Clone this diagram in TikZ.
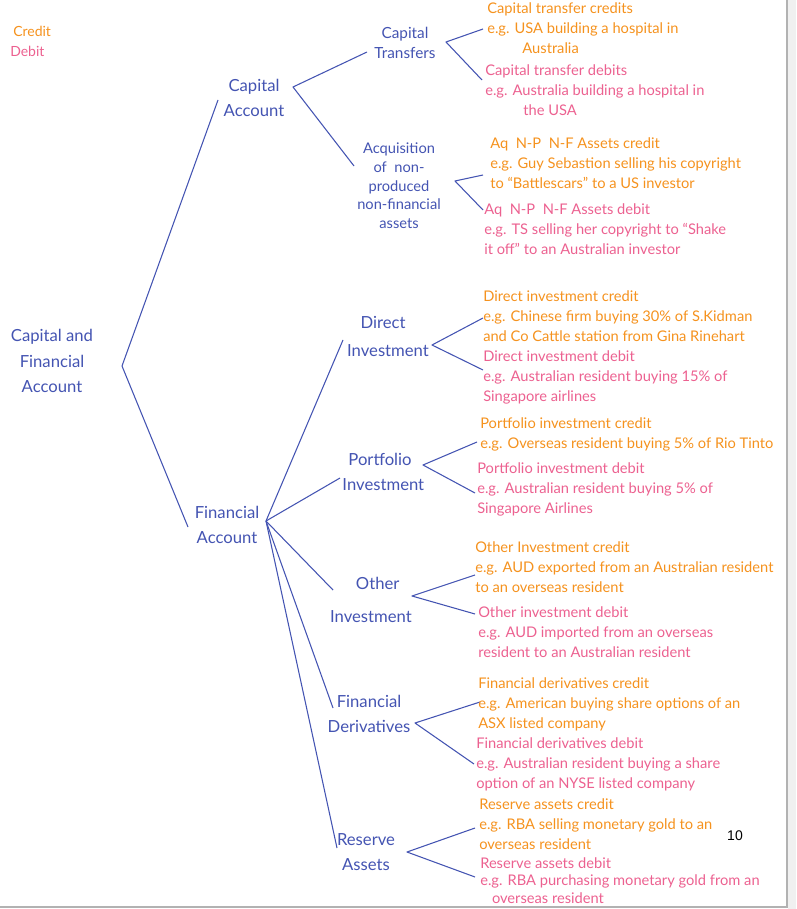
\documentclass[tikz,border=0pt]{standalone}
\usepackage{fontspec}
\setmainfont{Lato}
\newfontfamily\pagefont{Liberation Sans}
\definecolor{tinta}{HTML}{4454B2}
\definecolor{credito}{HTML}{F5921E}
\definecolor{debito}{HTML}{EC6190}
\tikzset{
	conta/.style={text=tinta, align=center, inner sep=0pt, font=\fontsize{12.5}{19}\selectfont},
	ramo/.style={draw=tinta, line width=0.8pt, line join=round},
	credtxt/.style={text=credito, anchor=north west, align=left, inner sep=0pt, font=\fontsize{11}{15}\selectfont},
	debtxt/.style={credtxt, text=debito}
}
\begin{document}
\begin{tikzpicture}[x=0.75pt, y=-0.75pt]
	\useasboundingbox (0,0) rectangle (796,909);

% borda da folha
	\fill[gray!12] (788,0) rectangle (796,909);
	\draw[gray!60, line width=0.8pt] (787,0) -- (787,907) -- (0,907);

% legenda
	\node[credtxt, font=\fontsize{10.5}{13}\selectfont] (cred) at (13,26) {Credit};
	\node[debtxt, font=\fontsize{10.5}{13}\selectfont] (deb) at (10,46) {Debit};

% contas
	\node[conta] (cfa) at (52,361) {Capital and\\Financial\\Account};
	\node[conta] (ca) at (254,98) {Capital\\Account};
	\node[conta] (fa) at (227,525) {Financial\\Account};
	\node[conta, font=\fontsize{11.5}{15}\selectfont] (ct) at (405,43) {Capital\\Transfers};
	\node[conta, font=\fontsize{11}{14}\selectfont] (aq) at (399,186) {Acquisition\\of \ non-\\produced\\non-financial\\assets};
	\node[conta, font=\fontsize{12.5}{21}\selectfont] (di) at (383,336) {Direct\\\hspace*{0.6em}Investment};
	\node[conta] (pi) at (380,472) {Portfolio\\\hspace*{0.4em}Investment};
	\node[conta, font=\fontsize{12.5}{25}\selectfont] (oi) at (371,600) {\hspace*{0.8em}Other\\Investment};
	\node[conta] (fd) at (369,714) {Financial\\Derivatives};
	\node[conta] (ra) at (366,852) {Reserve\\Assets};

% pontos dos ramos
	\coordinate (cfa-v) at (122,366);
	\coordinate (ca-in) at (218,100);
	\coordinate (fa-in) at (188,527);
	\coordinate (ca-v) at (293,87);
	\coordinate (ct-in) at (367,52);
	\coordinate (aq-in) at (354,166);
	\coordinate (fa-v) at (266,521);
	\foreach \n/\x/\y in {di/343/340, pi/340/478, oi/333/590, fd/333/708, ra/337/848}
		\coordinate (\n-in) at (\x,\y);
	\foreach \n/\vx/\vy/\ux/\uy/\dx/\dy in {ct/446/42/483/29/482/80, aq/455/181/483/175/483/210,
			di/432/345/483/318/483/370, pi/423/465/477/442/475/493, oi/412/596/475/575/475/614,
			fd/415/723/480/702/474/764, ra/407/852/475/828/475/877}
	{
		\coordinate (\n-v) at (\vx,\vy);
		\coordinate (\n-up) at (\ux,\uy);
		\coordinate (\n-dn) at (\dx,\dy);
	}

% ramos
	\draw[ramo] (ca-in) -- (cfa-v) -- (fa-in);
	\draw[ramo] (ct-in) -- (ca-v) -- (aq-in);
	\foreach \n in {di, pi, oi, fd, ra}
		\draw[ramo] (fa-v) -- (\n-in);
	\foreach \n in {ct, aq, di, pi, oi, fd, ra}
		\draw[ramo] (\n-up) -- (\n-v) -- (\n-dn);

% creditos e debitos
	\node[credtxt] (ct-c) at (487,2) {Capital transfer credits\\e.g. USA building a hospital in\\\hspace*{2.4em}Australia};
	\node[debtxt] (ct-d) at (485,64) {Capital transfer debits\\e.g. Australia building a hospital in\\\hspace*{2.6em}the USA};
	\node[credtxt] (aq-c) at (490,137) {Aq \ N-P \ N-F Assets credit\\e.g. Guy Sebastion selling his copyright\\to ``Battlescars'' to a US investor};
	\node[debtxt] (aq-d) at (484,203) {Aq \ N-P \ N-F Assets debit\\e.g. TS selling her copyright to ``Shake\\it off'' to an Australian investor};
	\node[credtxt] (di-c) at (483,290) {Direct investment credit\\e.g. Chinese firm buying 30\% of S.Kidman\\and Co Cattle station from Gina Rinehart};
	\node[debtxt] (di-d) at (483,350) {Direct investment debit\\e.g. Australian resident buying 15\% of\\Singapore airlines};
	\node[credtxt] (pi-c) at (480,417) {Portfolio investment credit\\e.g. Overseas resident buying 5\% of Rio Tinto};
	\node[debtxt] (pi-d) at (477,462) {Portfolio investment debit\\e.g. Australian resident buying 5\% of\\Singapore Airlines};
	\node[credtxt] (oi-c) at (475,541) {Other Investment credit\\e.g. AUD exported from an Australian resident\\to an overseas resident};
	\node[debtxt] (oi-d) at (478,606) {Other investment debit\\e.g. AUD imported from an overseas\\resident to an Australian resident};
	\node[credtxt] (fd-c) at (478,677) {Financial derivatives credit\\e.g. American buying share options of an\\ASX listed company};
	\node[debtxt] (fd-d) at (476,737) {Financial derivatives debit\\e.g. Australian resident buying a share\\option of an NYSE listed company};
	\node[credtxt] (ra-c) at (479,798) {Reserve assets credit\\e.g. RBA selling monetary gold to an\\overseas resident};
	\node[debtxt, font=\fontsize{11}{13.2}\selectfont] (ra-d) at (480,857) {Reserve assets debit\\e.g. RBA purchasing monetary gold from an\\\hspace*{0.8em}overseas resident};

% numero da pagina
	\node[font=\pagefont\fontsize{10.5}{12}\selectfont, inner sep=0pt] (pg) at (735,836) {10};

\end{tikzpicture}
\end{document}
